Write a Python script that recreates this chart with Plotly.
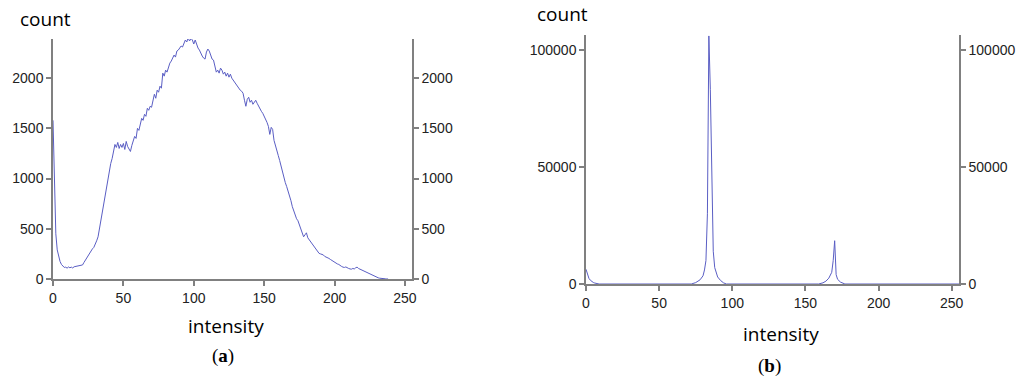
"""
Gray-level histograms: (a) broad distribution, (b) three sharp peaks
"""

import plotly.graph_objects as go

# ── (a) histogram ─────────────────────────────────────────
intensity_a = list(range(0, 239))
count_a = [
    1580, 1050, 450, 290, 215, 175, 145, 125, 115, 118,
    108, 120, 112, 118, 110, 122, 125, 130, 135, 132,
    138, 140, 165, 190, 215, 235, 255, 280, 300, 315,
    340, 380, 420, 500, 580, 660, 750, 820, 920, 1020,
    1080, 1150, 1200, 1280, 1340, 1310, 1360, 1300, 1340, 1310,
    1350, 1290, 1370, 1320, 1290, 1270, 1330, 1390, 1420, 1400,
    1500, 1480, 1540, 1600, 1580, 1640, 1620, 1700, 1680, 1720,
    1710, 1780, 1840, 1800, 1880, 1860, 1920, 1900, 2050, 2020,
    2080, 2060, 2110, 2150, 2170, 2200, 2230, 2210, 2270, 2280,
    2300, 2320, 2310, 2340, 2380, 2360, 2400, 2370, 2395, 2380,
    2340, 2380, 2330, 2300, 2280, 2240, 2220, 2200, 2190, 2260,
    2290, 2270, 2220, 2190, 2180, 2100, 2060, 2080, 2050, 2100,
    2080, 2040, 2060, 2020, 2050, 2010, 2040, 2000, 1980, 1960,
    1940, 1910, 1900, 1880, 1870, 1850, 1780, 1720, 1790, 1810,
    1760, 1780, 1740, 1760, 1780, 1750, 1720, 1690, 1670, 1650,
    1620, 1600, 1560, 1520, 1440, 1510, 1490, 1380, 1320, 1280,
    1230, 1180, 1120, 1080, 1000, 960, 920, 880, 840, 780,
    720, 680, 630, 600, 580, 540, 500, 470, 420, 440,
    460, 410, 390, 370, 350, 340, 320, 300, 270, 255,
    250, 245, 240, 225, 220, 210, 205, 195, 185, 175,
    165, 155, 150, 145, 130, 125, 118, 115, 120, 110,
    105, 100, 98, 105, 100, 112, 118, 105, 98, 92,
    85, 78, 70, 62, 55, 48, 42, 35, 30, 25,
    18, 12, 8, 5, 4, 3, 2, 1, 0,
]

# ── (b) histogram (sparse: zero elsewhere) ────────────────
intensity_b = [
    0, 1, 2, 3, 4, 5, 6, 7, 8, 9,
    72, 75, 78, 80, 81, 82, 83, 84, 85, 86, 87, 88, 89, 90, 92, 94, 96,
    159, 162, 164, 166, 168, 169, 170, 171, 172, 174, 176, 177,
    255,
]
count_b = [
    6300, 3800, 2400, 1600, 1000, 650, 400, 200, 80, 0,
    0, 600, 1800, 3500, 6000, 10000, 30000, 106000, 83000, 40000, 14000, 7000, 4500, 3000, 1500, 500, 0,
    0, 500, 1200, 2500, 5000, 10000, 18500, 4000, 2000, 800, 200, 0,
    0,
]

x_ticks = [0, 50, 100, 150, 200, 250]
y_ticks_a = [0, 500, 1000, 1500, 2000]
y_ticks_b = [0, 50000, 100000]

W, H = 1024, 382
LINE = "#5a5ec4"
AXIS = "#808080"
TICKFONT = dict(family="Liberation Sans, Arial", size=14, color="#222222")
LABELFONT = dict(family="Open Sans, Noto Sans", size=19, color="#000000")


def px(x):
    return x / W


def py(y):
    return 1 - y / H


fig = go.Figure()

fig.add_trace(go.Scatter(
    x=intensity_a, y=count_a, mode="lines",
    line=dict(color=LINE, width=1), xaxis="x", yaxis="y",
    showlegend=False,
))
fig.add_trace(go.Scatter(
    x=intensity_b, y=count_b, mode="lines",
    line=dict(color=LINE, width=1), xaxis="x2", yaxis="y2",
    showlegend=False,
))
# 右側刻度軸需要有 trace 才會顯示（透明、不可互動）
for ya, xa, xs, ys in (("y3", "x", intensity_a, count_a), ("y4", "x2", intensity_b, count_b)):
    fig.add_trace(go.Scatter(
        x=xs, y=ys, mode="lines", line=dict(color="rgba(0,0,0,0)", width=0),
        xaxis=xa, yaxis=ya, hoverinfo="skip", showlegend=False,
    ))

axis_common = dict(
    showline=True, linecolor=AXIS, linewidth=1.5,
    ticks="outside", ticklen=5, tickcolor=AXIS, tickwidth=1.5,
    showgrid=False, zeroline=False, tickfont=TICKFONT, automargin=False,
)

fig.update_layout(
    width=W, height=H, autosize=False,
    margin=dict(l=0, r=0, t=0, b=0, pad=0),
    paper_bgcolor="white", plot_bgcolor="white",
    xaxis=dict(domain=[px(53), px(412)], anchor="y", range=[0, 255],
               tickvals=x_ticks, **axis_common),
    yaxis=dict(domain=[py(279), py(39)], anchor="x", range=[0, 2390],
               tickvals=y_ticks_a, **axis_common),
    yaxis3=dict(overlaying="y", side="right", anchor="x", range=[0, 2390],
                tickvals=y_ticks_a, **axis_common),
    xaxis2=dict(domain=[px(586), px(959)], anchor="y2", range=[0, 255],
                tickvals=x_ticks, **axis_common),
    yaxis2=dict(domain=[py(284), py(35)], anchor="x2", range=[0, 106400],
                tickvals=y_ticks_b, tickformat="d", **axis_common),
    yaxis4=dict(overlaying="y2", side="right", anchor="x2", range=[0, 106400],
                tickvals=y_ticks_b, tickformat="d", **axis_common),
)

# 軸標題與子圖編號
labels = [
    ("count", 45, 19, LABELFONT),
    ("count", 562, 14, LABELFONT),
    ("intensity", 226, 326, LABELFONT),
    ("intensity", 781, 334, LABELFONT),
    ("(<b>a</b>)", 223, 356, dict(family="Liberation Serif", size=19, color="#000000")),
    ("(<b>b</b>)", 769, 366, dict(family="Liberation Serif", size=19, color="#000000")),
]
for text, x, y, font in labels:
    fig.add_annotation(
        text=text, x=px(x), y=py(y), xref="paper", yref="paper",
        xanchor="center", yanchor="middle", showarrow=False, font=font,
    )

fig.write_html(
    "out.html",
    config={"displayModeBar": False},
    post_script="document.body.style.margin='0';document.body.style.overflow='hidden';",
)
